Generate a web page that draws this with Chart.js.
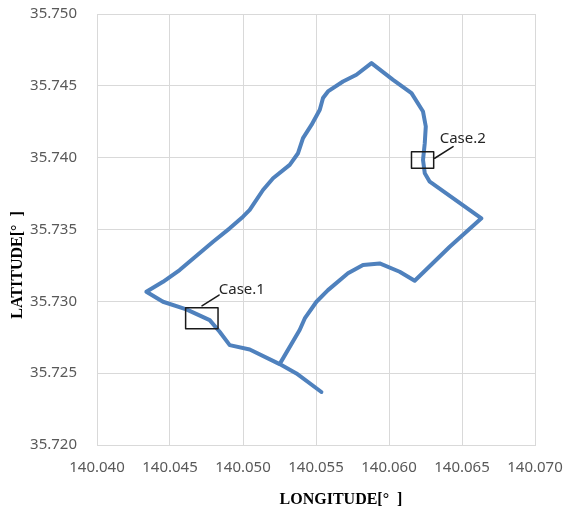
<!DOCTYPE html>
<html>
<head>
<meta charset="utf-8">
<script src="https://cdn.jsdelivr.net/npm/chart.js@4/dist/chart.umd.min.js"></script>
<style>
  html, body { margin: 0; padding: 0; background: #fff; }
  #wrap { width: 563px; height: 510px; }
</style>
</head>
<body>
<div id="wrap"><canvas id="c" width="563" height="510"></canvas></div>
<script>
// 軸刻度
const xTicks = [140.040, 140.045, 140.050, 140.055, 140.060, 140.065, 140.070];
const yTicks = [35.720, 35.725, 35.730, 35.735, 35.740, 35.745, 35.750];

// 走行軌跡（経度・緯度）
const trackLon = [140.05537, 140.05366, 140.05251, 140.05046, 140.04909, 140.04840, 140.04772, 140.04612,
  140.04452, 140.04338, 140.04452, 140.04566, 140.04795, 140.04909, 140.05000, 140.05046, 140.05137,
  140.05206, 140.05320, 140.05377, 140.05411, 140.05469, 140.05526, 140.05548, 140.05582, 140.05685,
  140.05777, 140.05880, 140.06028, 140.06154, 140.06233, 140.06252, 140.06245, 140.06233, 140.06245,
  140.06279, 140.06633, 140.06416, 140.06176, 140.06073, 140.05936, 140.05822, 140.05719, 140.05582,
  140.05503, 140.05423, 140.05388, 140.05251];
const trackLat = [35.72369, 35.72498, 35.72563, 35.72665, 35.72695, 35.72788, 35.72869, 35.72944,
  35.72997, 35.73067, 35.73136, 35.73218, 35.73415, 35.73508, 35.73589, 35.73636, 35.73775,
  35.73857, 35.73950, 35.74031, 35.74136, 35.74228, 35.74333, 35.74415, 35.74461, 35.74530,
  35.74577, 35.74658, 35.74542, 35.74449, 35.74321, 35.74217, 35.74101, 35.73984, 35.73892,
  35.73833, 35.73578, 35.73380, 35.73143, 35.73206, 35.73264, 35.73253, 35.73195, 35.73078,
  35.72997, 35.72881, 35.72800, 35.72563];

// 注目区間の枠と引き出し線
const box1Lon = [140.04607, 140.04829, 140.04829, 140.04607, 140.04607];
const box1Lat = [35.72955, 35.72955, 35.72809, 35.72809, 35.72955];
const box2Lon = [140.06154, 140.06306, 140.06306, 140.06154, 140.06154];
const box2Lat = [35.74042, 35.74042, 35.73927, 35.73927, 35.74042];
const lead1Lon = [140.04719, 140.04836];
const lead1Lat = [35.72969, 35.73044];
const lead2Lon = [140.06313, 140.06439];
const lead2Lat = [35.73996, 35.74077];

// ラベル
const caseNames = ['Case.1', 'Case.2'];
const caseLon = [140.04834, 140.06347];
const caseLat = [35.73078, 35.74131];

const pts = (xs, ys) => xs.map((x, i) => ({ x, y: ys[i] }));

function lineSet(xs, ys, color, width, order) {
  return {
    data: pts(xs, ys),
    showLine: true,
    borderColor: color,
    borderWidth: width,
    pointRadius: 0,
    borderCapStyle: 'round',
    borderJoinStyle: 'round',
    tension: 0,
    order
  };
}

// ケース名と軸タイトルを描く
const labelPlugin = {
  id: 'labels',
  afterDatasetsDraw(chart) {
    const { ctx, scales } = chart;
    ctx.save();
    ctx.fillStyle = '#262626';
    ctx.font = '15px "Noto Sans"';
    ctx.textAlign = 'left';
    ctx.textBaseline = 'middle';
    caseNames.forEach((n, i) => {
      ctx.fillText(n, scales.x.getPixelForValue(caseLon[i]), scales.y.getPixelForValue(caseLat[i]));
    });
    ctx.fillStyle = '#000';
    ctx.font = 'bold 16px "Liberation Serif"';
    ctx.textAlign = 'center';
    ctx.textBaseline = 'alphabetic';
    ctx.fillText('LONGITUDE[°  ]', 341, 504);
    ctx.translate(22, 265);
    ctx.rotate(-Math.PI / 2);
    ctx.fillText('LATITUDE[°  ]', 0, 0);
    ctx.restore();
  }
};

const tickFont = { family: 'Noto Sans', size: 15 };

new Chart(document.getElementById('c'), {
  type: 'scatter',
  data: {
    datasets: [
      lineSet(trackLon, trackLat, '#4f81bd', 4, 10),
      lineSet(box1Lon, box1Lat, '#1a1a1a', 1.5, 1),
      lineSet(box2Lon, box2Lat, '#1a1a1a', 1.5, 1),
      lineSet(lead1Lon, lead1Lat, '#1a1a1a', 1.5, 1),
      lineSet(lead2Lon, lead2Lat, '#1a1a1a', 1.5, 1)
    ]
  },
  options: {
    responsive: false,
    animation: false,
    layout: { padding: { top: 14, right: 28, left: 0, bottom: 0 } },
    plugins: { legend: { display: false }, tooltip: { enabled: false } },
    scales: {
      x: {
        type: 'linear',
        min: xTicks[0],
        max: xTicks[xTicks.length - 1],
        afterBuildTicks: s => { s.ticks = xTicks.map(v => ({ value: v })); },
        afterFit: s => { s.height = 65; s.paddingLeft = 0; s.paddingRight = 0; },
        grid: { color: '#d9d9d9', drawTicks: false },
        border: { color: '#d9d9d9' },
        ticks: { color: '#595959', font: tickFont, padding: 14, callback: v => v.toFixed(3) }
      },
      y: {
        type: 'linear',
        min: yTicks[0],
        max: yTicks[yTicks.length - 1],
        afterBuildTicks: s => { s.ticks = yTicks.map(v => ({ value: v })); },
        afterFit: s => { s.width = 97; s.paddingTop = 0; s.paddingBottom = 0; },
        grid: { color: '#d9d9d9', drawTicks: false },
        border: { color: '#d9d9d9' },
        ticks: { color: '#595959', font: tickFont, padding: 20, callback: v => v.toFixed(3) }
      }
    }
  },
  plugins: [labelPlugin]
});
</script>
</body>
</html>
